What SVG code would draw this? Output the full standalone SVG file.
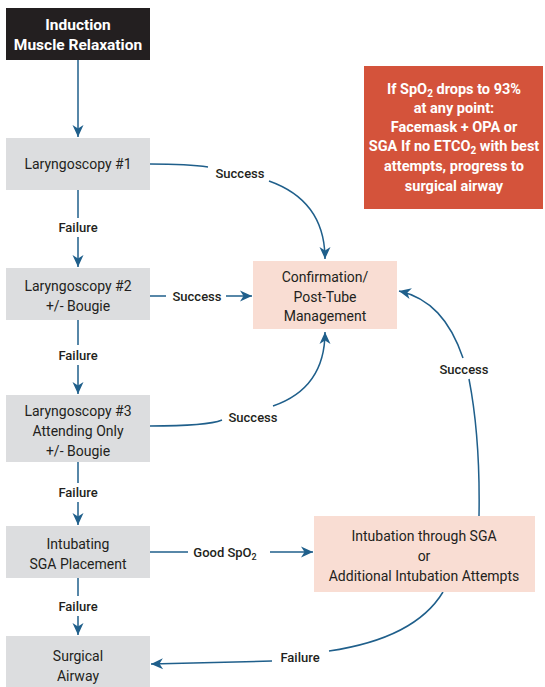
<svg xmlns="http://www.w3.org/2000/svg" width="545" height="687" viewBox="0 0 545 687">
<style>
text{font-family:Roboto,"Liberation Sans",sans-serif;text-anchor:middle;fill:#231f20}
.grey{fill:#dcdddf}
.pink{fill:#f9ddd3}
.bt{font-size:14px}
.wt{font-size:14.5px;font-weight:700;fill:#ffffff}
.dk{font-size:15.5px}
.lbl{font-size:13px;font-weight:500}
.c{fill:none;stroke:#1f5f8b;stroke-width:1.5}
.a{marker-end:url(#ah)}
</style>
<defs>
<marker id="ah" markerUnits="userSpaceOnUse" markerWidth="14" markerHeight="14" viewBox="-13 -7 14 14" refX="0" refY="0" orient="auto">
<path d="M-12,-5.5 L0,0 L-12,5.5 L-8.5,0 Z" fill="#1f5f8b"/>
</marker>
</defs>
<g id="connectors">
<path class="c a" d="M78,60 V137"/>
<path class="c" d="M78,190 V218"/>
<path class="c a" d="M78,237 V267"/>
<path class="c" d="M78,320 V345"/>
<path class="c a" d="M78,365 V394"/>
<path class="c" d="M78,462 V483"/>
<path class="c a" d="M78,502 V525"/>
<path class="c" d="M78,578 V596"/>
<path class="c a" d="M78,616 V635"/>
<path class="c" d="M150,164 C175,164 195,165 208,167"/>
<path class="c a" d="M269,181 C300,192 325,215 325,259"/>
<path class="c" d="M150,296 H166"/>
<path class="c a" d="M226,296 H252"/>
<path class="c" d="M150,426 C180,426 210,425 222,420"/>
<path class="c a" d="M273,406 C305,395 325,372 325,332"/>
<path class="c" d="M150,552 H188"/>
<path class="c a" d="M270,552 H313"/>
<path class="c" d="M479,516 C480,460 475,410 469,379"/>
<path class="c a" d="M463,358 C450,320 430,298 399,291"/>
<path class="c" d="M443,592 C420,630 370,645 329,651"/>
<path class="c a" d="M272,661 C230,662 190,663 151,664"/>
</g>
<g id="labels">
<text class="lbl" x="78" y="232">Failure</text>
<text class="lbl" x="78" y="360">Failure</text>
<text class="lbl" x="78" y="497">Failure</text>
<text class="lbl" x="78" y="611">Failure</text>
<text class="lbl" x="240" y="178">Success</text>
<text class="lbl" x="197" y="301">Success</text>
<text class="lbl" x="253" y="422">Success</text>
<text class="lbl" x="464" y="374">Success</text>
<text class="lbl" x="300" y="662">Failure</text>
<text class="lbl" x="225" y="557">Good SpO<tspan font-size="9" dy="3">2</tspan></text>
</g>
<g id="induction">
<rect x="6" y="8" width="144" height="52" fill="#231f20"/>
<text class="wt dk" x="78" y="30">Induction</text>
<text class="wt dk" x="78" y="50">Muscle Relaxation</text>
</g>
<g id="laryngoscopy1">
<rect class="grey" x="6" y="138" width="144" height="52"/>
<text class="bt" x="78" y="169">Laryngoscopy #1</text>
</g>
<g id="laryngoscopy2">
<rect class="grey" x="6" y="268" width="144" height="52"/>
<text class="bt" x="78" y="291">Laryngoscopy #2</text>
<text class="bt" x="78" y="311">+/- Bougie</text>
</g>
<g id="laryngoscopy3">
<rect class="grey" x="6" y="395" width="144" height="67"/>
<text class="bt" x="78" y="416">Laryngoscopy #3</text>
<text class="bt" x="78" y="436">Attending Only</text>
<text class="bt" x="78" y="456">+/- Bougie</text>
</g>
<g id="sga">
<rect class="grey" x="6" y="526" width="144" height="52"/>
<text class="bt" x="78" y="549">Intubating</text>
<text class="bt" x="78" y="569">SGA Placement</text>
</g>
<g id="surgical">
<rect class="grey" x="6" y="636" width="144" height="51"/>
<text class="bt" x="78" y="661">Surgical</text>
<text class="bt" x="78" y="681">Airway</text>
</g>
<g id="confirmation">
<rect class="pink" x="253" y="261" width="144" height="68"/>
<text class="bt" x="325" y="282">Confirmation/</text>
<text class="bt" x="325" y="302">Post-Tube</text>
<text class="bt" x="325" y="321">Management</text>
</g>
<g id="intubation">
<rect class="pink" x="314" y="516" width="221" height="76"/>
<text class="bt" x="424" y="541">Intubation through SGA</text>
<text class="bt" x="424" y="561">or</text>
<text class="bt" x="424" y="581">Additional Intubation Attempts</text>
</g>
<g id="note">
<rect x="364" y="66" width="179" height="143" fill="#d4533b"/>
<text class="wt" x="454" y="94">If SpO<tspan font-size="10" dy="3">2</tspan><tspan dy="-3"> drops to 93%</tspan></text>
<text class="wt" x="454" y="113">at any point:</text>
<text class="wt" x="454" y="132">Facemask + OPA or</text>
<text class="wt" x="454" y="151">SGA If no ETCO<tspan font-size="10" dy="3">2</tspan><tspan dy="-3"> with best</tspan></text>
<text class="wt" x="454" y="171">attempts, progress to</text>
<text class="wt" x="454" y="191">surgical airway</text>
</g>
</svg>
